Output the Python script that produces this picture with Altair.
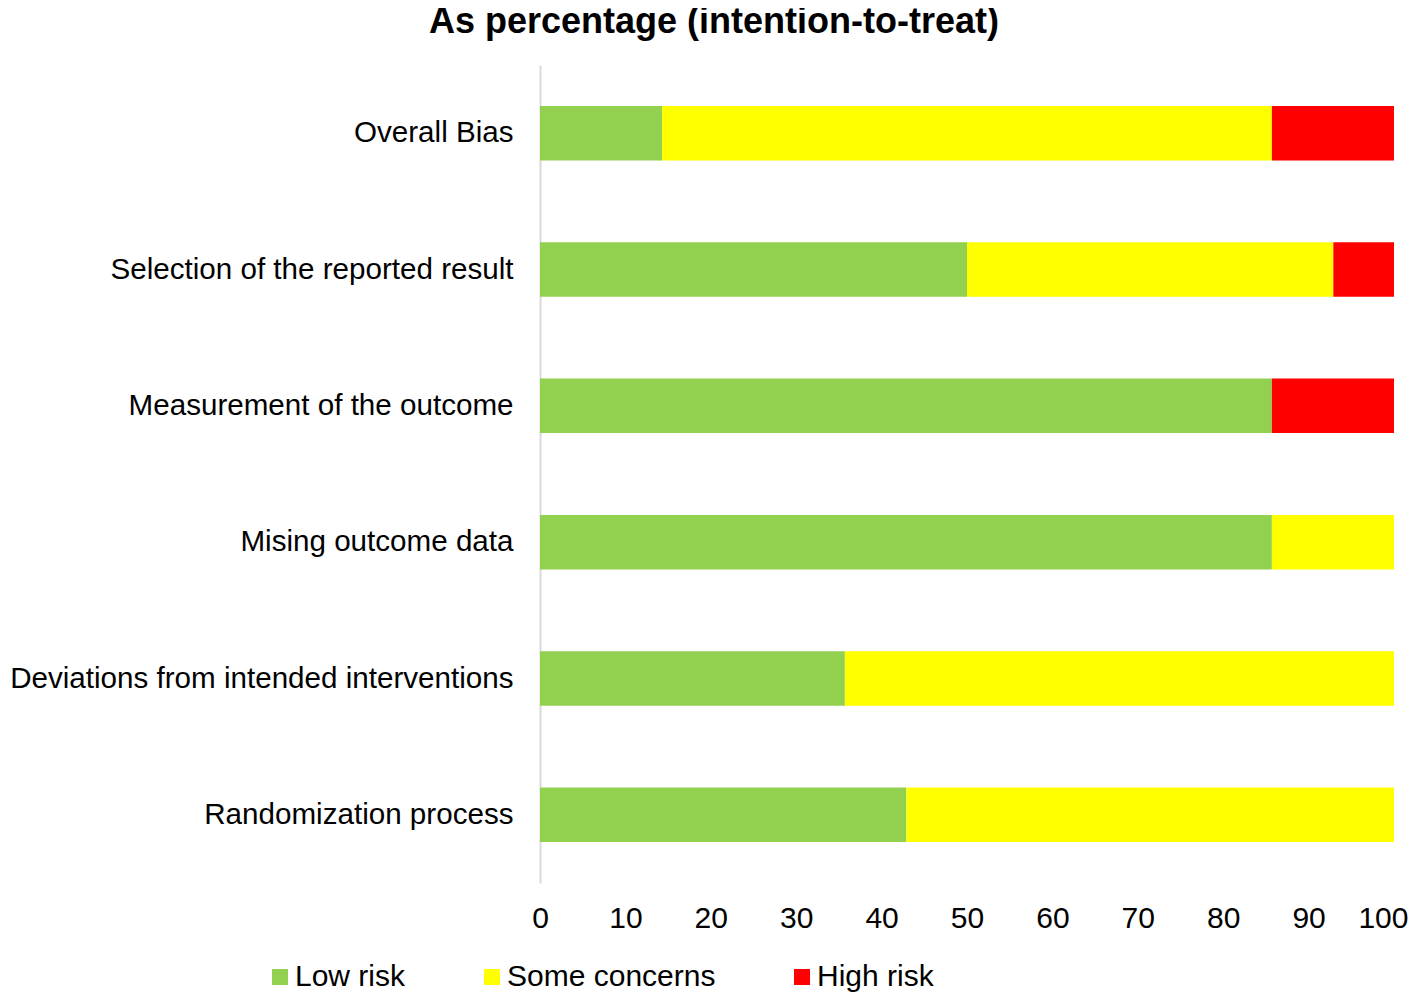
import altair as alt
import pandas as pd

domains = [
    "Overall Bias",
    "Selection of the reported result",
    "Measurement of the outcome",
    "Mising outcome data",
    "Deviations from intended interventions",
    "Randomization process",
]
categories = ["Low risk", "Some concerns", "High risk"]
colors = ["#92D050", "#FFFF00", "#FF0000"]

low_risk = [14.3, 50.0, 85.7, 85.7, 35.7, 42.9]
some_concerns = [71.4, 42.9, 0.0, 14.3, 64.3, 57.1]
high_risk = [14.3, 7.1, 14.3, 0.0, 0.0, 0.0]
x_ticks = list(range(0, 101, 10))

rows = []
for i, d in enumerate(domains):
    for j, (cat, vals) in enumerate(zip(categories, [low_risk, some_concerns, high_risk])):
        rows.append({"domain": d, "risk": cat, "value": vals[i], "order": j})
df = pd.DataFrame(rows)

font = "Liberation Sans"

chart = (
    alt.Chart(df)
    .mark_bar()
    .encode(
        x=alt.X(
            "value:Q",
            stack="zero",
            scale=alt.Scale(domain=[0, 100], nice=False),
            axis=alt.Axis(
                values=x_ticks,
                title=None,
                domain=False,
                ticks=False,
                grid=False,
                labelFont=font,
                labelFontSize=30,
                labelColor="#000000",
                labelPadding=20,
                labelFlush=False,
                labelAlign={"condition": {"test": "datum.value == 100", "value": "right"}, "value": "center"},
                labelOffset={"condition": {"test": "datum.value == 100", "value": 14}, "value": 0},
            ),
        ),
        y=alt.Y(
            "domain:N",
            sort=domains,
            scale=alt.Scale(paddingInner=0.6, paddingOuter=0.3),
            axis=alt.Axis(
                title=None,
                ticks=False,
                domainColor="#D9D9D9",
                domainWidth=2,
                labelFont=font,
                labelFontSize=29.6,
                labelColor="#000000",
                labelPadding=27,
                labelLimit=0,
            ),
        ),
        color=alt.Color(
            "risk:N",
            scale=alt.Scale(domain=categories, range=colors),
            legend=alt.Legend(
                title=None,
                orient="none",
                legendX=-275,
                legendY=897,
                direction="horizontal",
                symbolType="square",
                symbolSize=256,
                symbolStrokeWidth=0,
                labelFont=font,
                labelFontSize=30,
                labelColor="#000000",
                labelOffset=0,
                labelLimit=0,
                columnPadding=71,
            ),
        ),
        order=alt.Order("order:Q"),
    )
    .properties(
        width=854,
        height=818,
        title=alt.TitleParams(
            "As percentage (intention-to-treat)",
            font=font,
            fontSize=36,
            fontWeight="bold",
            color="#000000",
            anchor="middle",
            dx=-253,
            offset=24,
        ),
        autosize=alt.AutoSizeParams(type="none"),
        padding={"left": 532, "top": 57, "right": 16, "bottom": 112},
    )
    .configure_view(stroke=None)
)

chart.save("out.html", embed_options={"renderer": "svg", "actions": False})
